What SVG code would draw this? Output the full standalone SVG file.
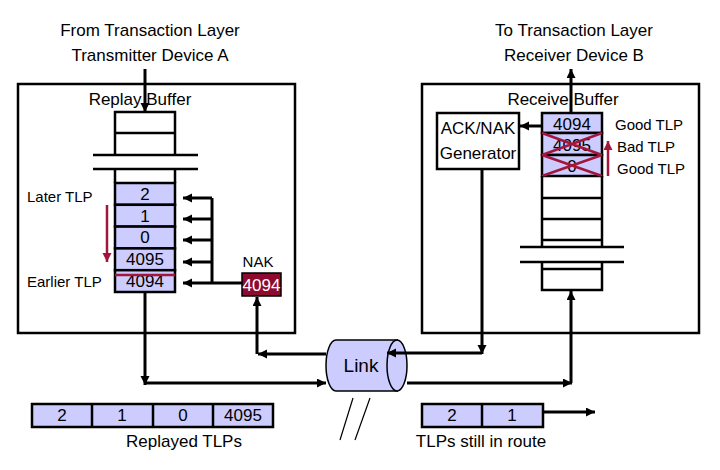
<svg xmlns="http://www.w3.org/2000/svg" width="720" height="470" viewBox="0 0 720 470">
<style>
text{font-family:"Liberation Sans",Arial,sans-serif;fill:#000}
.t17{font-size:17px}
.t15{font-size:15px}
.box{fill:#fff;stroke:#000;stroke-width:2.5}
.ln{fill:none;stroke:#000;stroke-width:2.5}
.cell{fill:#ccccff;stroke:#000;stroke-width:2.5}
.con{fill:none;stroke:#000;stroke-width:3}
.red{fill:none;stroke:#a3153d;stroke-width:2.5}
.mid{text-anchor:middle}
</style>
<defs>
<marker id="ah" markerUnits="userSpaceOnUse" markerWidth="10" markerHeight="10" refX="9" refY="4.5" orient="auto"><path d="M0,0 L9,4.5 L0,9 z" fill="#000"/></marker>
<marker id="rh" markerUnits="userSpaceOnUse" markerWidth="10" markerHeight="10" refX="9" refY="4.5" orient="auto"><path d="M0,0 L9,4.5 L0,9 z" fill="#a3153d"/></marker>
</defs>
<rect width="720" height="470" fill="#fff"/>

<g id="title-left">
<text class="t17 mid" x="150" y="36">From Transaction Layer</text>
<text class="t17 mid" x="150" y="61">Transmitter Device A</text>
</g>
<g id="title-right">
<text class="t17 mid" x="574" y="36">To Transaction Layer</text>
<text class="t17 mid" x="574" y="61">Receiver Device B</text>
</g>

<g id="device-a">
<rect class="box" x="18" y="84" width="277" height="249"/>
<text class="t17 mid" x="140" y="105">Replay Buffer</text>
</g>

<g id="replay-buffer">
<path class="ln" d="M115,155 V112 H175 V155 M115,133 H175 M93,155 H198 M93,169 H198 M115,169 V183 M175,169 V183"/>
<rect class="cell" x="115" y="183" width="60" height="21.8"/>
<rect class="cell" x="115" y="204.8" width="60" height="21.8"/>
<rect class="cell" x="115" y="226.6" width="60" height="21.8"/>
<rect class="cell" x="115" y="248.4" width="60" height="21.8"/>
<rect class="cell" x="115" y="270.2" width="60" height="21.8"/>
<text class="t17 mid" x="145" y="200">2</text>
<text class="t17 mid" x="145" y="222">1</text>
<text class="t17 mid" x="145" y="243">0</text>
<text class="t17 mid" x="145" y="265">4095</text>
<text class="t17 mid" x="145" y="287">4094</text>
<line class="red" x1="115" y1="275" x2="175" y2="275"/>
<text class="t15" x="27" y="202">Later TLP</text>
<text class="t15" x="27" y="287">Earlier TLP</text>
<line class="red" x1="107" y1="205" x2="107" y2="262" stroke-width="3" marker-end="url(#rh)"/>
</g>

<g id="nak">
<text class="t15 mid" x="258" y="267">NAK</text>
<rect x="242" y="273" width="39" height="23" fill="#8e0a2e" stroke="#000" stroke-width="1.5"/>
<text class="t17 mid" x="261.5" y="291" style="fill:#fff">4094</text>
</g>

<g id="device-b">
<rect class="box" x="422" y="84" width="277" height="249"/>
<text class="t17 mid" x="563" y="105">Receive Buffer</text>
</g>

<g id="ack-nak-generator">
<rect class="box" x="437" y="113" width="82" height="56"/>
<text class="t17 mid" x="478" y="134">ACK/NAK</text>
<text class="t17 mid" x="478" y="159">Generator</text>
</g>

<g id="receive-buffer">
<rect class="cell" x="542" y="113" width="60" height="20"/>
<rect class="cell" x="542" y="133" width="60" height="22"/>
<rect class="cell" x="542" y="155" width="60" height="21"/>
<text class="t17 mid" x="572" y="130">4094</text>
<text class="t17 mid" x="572" y="151">4095</text>
<text class="t17 mid" x="572" y="172">0</text>
<path class="red" d="M542,133 L602,155 M542,155 L602,133 M542,155 L602,176 M542,176 L602,155"/>
<path class="ln" d="M542,176 V247 M602,176 V247 M542,198 H602 M542,219 H602 M542,240 H602 M520,247 H624 M520,262 H624 M542,262 V290 H602 V262 M542,269 H602"/>
<text class="t15" x="615" y="130">Good TLP</text>
<text class="t15" x="617" y="152">Bad TLP</text>
<text class="t15" x="617" y="174">Good TLP</text>
<line class="red" x1="608" y1="176" x2="608" y2="141" stroke-width="3" marker-end="url(#rh)"/>
</g>

<g id="link">
<path d="M398,340 H336 A10,25.5 0 0 0 336,391 H398" fill="#ccccff" stroke="#000" stroke-width="1.5"/>
<ellipse cx="397" cy="365.5" rx="10" ry="25.5" fill="#ccccff" stroke="#000" stroke-width="1.5"/>
<text class="mid" x="361" y="372" font-size="19">Link</text>
<path d="M353,398 L340,440 M370,398 L355,440" stroke="#000" stroke-width="1.2" fill="none"/>
</g>

<g id="replayed-tlps">
<rect class="cell" x="32" y="404" width="241" height="23"/>
<path class="ln" d="M92,404 V427 M153,404 V427 M213,404 V427"/>
<text class="t17 mid" x="62" y="421">2</text>
<text class="t17 mid" x="122" y="421">1</text>
<text class="t17 mid" x="183" y="421">0</text>
<text class="t17 mid" x="243" y="421">4095</text>
<text class="t17 mid" x="184" y="447">Replayed TLPs</text>
</g>

<g id="tlps-in-route">
<rect class="cell" x="422" y="404" width="121" height="23"/>
<path class="ln" d="M482,404 V427"/>
<text class="t17 mid" x="452" y="421">2</text>
<text class="t17 mid" x="512" y="421">1</text>
<text class="t17 mid" x="481" y="447">TLPs still in route</text>
</g>

<g id="connectors">
<line class="con" x1="145" y1="69" x2="145" y2="112" marker-end="url(#ah)"/>
<line class="con" x1="212" y1="198" x2="212" y2="283"/>
<line class="con" x1="212" y1="198" x2="183" y2="198" marker-end="url(#ah)"/>
<line class="con" x1="212" y1="219" x2="183" y2="219" marker-end="url(#ah)"/>
<line class="con" x1="212" y1="240" x2="183" y2="240" marker-end="url(#ah)"/>
<line class="con" x1="212" y1="262" x2="183" y2="262" marker-end="url(#ah)"/>
<line class="con" x1="242" y1="283" x2="183" y2="283" marker-end="url(#ah)"/>
<line class="con" x1="145" y1="292" x2="145" y2="385" marker-end="url(#ah)"/>
<line class="con" x1="145" y1="383" x2="326" y2="383" marker-end="url(#ah)"/>
<line class="con" x1="326" y1="354" x2="258" y2="354" marker-end="url(#ah)"/>
<line class="con" x1="257" y1="354" x2="257" y2="297" marker-end="url(#ah)"/>
<line class="con" x1="482" y1="169" x2="482" y2="354" marker-end="url(#ah)"/>
<line class="con" x1="482" y1="353" x2="387" y2="353" marker-end="url(#ah)"/>
<line class="con" x1="407" y1="383" x2="572" y2="383" marker-end="url(#ah)"/>
<line class="con" x1="571" y1="383" x2="571" y2="291" marker-end="url(#ah)"/>
<line class="con" x1="571" y1="113" x2="571" y2="69" marker-end="url(#ah)"/>
<line class="con" x1="542" y1="126" x2="520" y2="126" marker-end="url(#ah)"/>
<line class="con" x1="543" y1="412" x2="595" y2="412" marker-end="url(#ah)"/>
</g>
</svg>
